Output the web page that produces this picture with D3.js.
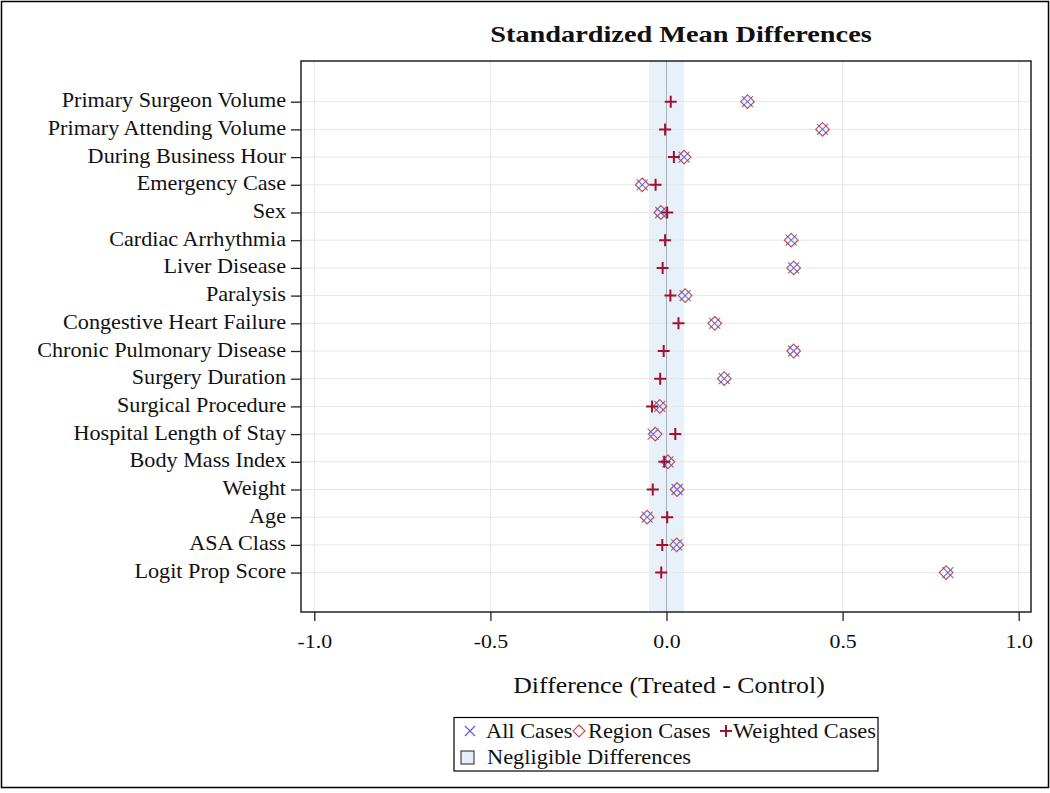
<!DOCTYPE html>
<html><head><meta charset="utf-8">
<script src="https://cdn.jsdelivr.net/npm/d3@7"></script>
<style>body{margin:0;background:#fff}svg{display:block}text{font-family:"Liberation Serif","Times New Roman",serif;fill:#111}</style>
</head><body><svg id="c" width="1050" height="793"></svg>
<script>
const categories = ["Primary Surgeon Volume","Primary Attending Volume","During Business Hour","Emergency Case","Sex","Cardiac Arrhythmia","Liver Disease","Paralysis","Congestive Heart Failure","Chronic Pulmonary Disease","Surgery Duration","Surgical Procedure","Hospital Length of Stay","Body Mass Index","Weight","Age","ASA Class","Logit Prop Score"];
const allCases     = [0.230,0.443,0.050,-0.069,-0.016,0.354,0.361,0.053,0.137,0.361,0.164,-0.019,-0.038,0.004,0.030,-0.055,0.029,0.799];
const regionCases  = [0.230,0.443,0.050,-0.069,-0.016,0.354,0.361,0.053,0.137,0.361,0.164,-0.019,-0.032,0.004,0.030,-0.055,0.029,0.794];
const weightedCases= [0.012,-0.004,0.021,-0.031,0.002,-0.004,-0.011,0.011,0.034,-0.008,-0.018,-0.041,0.025,-0.006,-0.039,0.002,-0.012,-0.015];
const xTicks = [-1.0,-0.5,0.0,0.5,1.0];
const negligible = [-0.05, 0.05];

const svg = d3.select("#c");
const L=301, R=1031, T=61, B=612;
const x = d3.scaleLinear().domain([-1,1]).range([314.3,1018.7]);
const y = d3.scalePoint().domain(categories).range([101.7,572.6]);

function stretch(sel, sx){
  sel.each(function(){
    const t=d3.select(this);
    const xv=+(t.attr("x")||0);
    t.attr("x",xv/sx).attr("transform",`scale(${sx},1)`);
  });
}

svg.append("rect").attr("x",1.5).attr("y",1.5).attr("width",1047).attr("height",786).attr("fill","none").attr("stroke","#000").attr("stroke-width",1.5);

svg.append("text").attr("x",681).attr("y",42).attr("text-anchor","middle").attr("font-size",24).attr("font-weight","bold").text("Standardized Mean Differences").call(stretch,1.18);

svg.append("rect").attr("x",x(negligible[0])).attr("y",T).attr("width",x(negligible[1])-x(negligible[0])).attr("height",B-T).attr("fill","#e8f0f9");

svg.append("g").selectAll("line").data(xTicks).join("line").attr("x1",d=>x(d)).attr("x2",d=>x(d)).attr("y1",T).attr("y2",B).attr("stroke","#e6e6e6").attr("stroke-width",1);
svg.append("g").selectAll("line").data(categories).join("line").attr("x1",L).attr("x2",R).attr("y1",d=>y(d)).attr("y2",d=>y(d)).attr("stroke","#e6e6e6").attr("stroke-width",1);

svg.append("line").attr("x1",x(0)).attr("x2",x(0)).attr("y1",T).attr("y2",B).attr("stroke","#a9b0bc").attr("stroke-width",1);

svg.append("rect").attr("x",L).attr("y",T).attr("width",R-L).attr("height",B-T).attr("fill","none").attr("stroke","#222").attr("stroke-width",1.5);

const xa = svg.append("g").attr("transform",`translate(0,${B})`).call(d3.axisBottom(x).tickValues(xTicks).tickFormat(d=>d3.format(".1f")(d).replace("\u2212","-")).tickSize(9).tickPadding(13));
xa.select(".domain").remove();
xa.selectAll("line").attr("stroke","#222").attr("stroke-width",1.3);
xa.selectAll("text").attr("font-size",19.5).attr("font-family","Liberation Serif, serif").attr("fill","#111").call(stretch,1.12);
const ya = svg.append("g").attr("transform",`translate(${L},0)`).call(d3.axisLeft(y).tickSize(10).tickPadding(5));
ya.select(".domain").remove();
ya.selectAll("line").attr("stroke","#222").attr("stroke-width",1.3);
ya.selectAll("text").attr("font-size",20).attr("dy","0.25em").attr("font-family","Liberation Serif, serif").attr("fill","#111").call(stretch,1.11);

svg.append("text").attr("x",669).attr("y",693).attr("text-anchor","middle").attr("font-size",24).text("Difference (Treated - Control)").call(stretch,1.075);

const diamond = (cx,cy,s)=>`M${cx},${cy-s}L${cx+s},${cy}L${cx},${cy+s}L${cx-s},${cy}Z`;
const cross = (cx,cy,s)=>`M${cx-s},${cy-s}L${cx+s},${cy+s}M${cx-s},${cy+s}L${cx+s},${cy-s}`;
const plus = (cx,cy,s)=>`M${cx-s},${cy}L${cx+s},${cy}M${cx},${cy-s}L${cx},${cy+s}`;

svg.append("g").selectAll("path").data(categories).join("path")
  .attr("d",(d,i)=>diamond(x(regionCases[i]),y(d),6.8)).attr("fill","none").attr("stroke","#c0504d").attr("stroke-width",1.2);
svg.append("g").selectAll("path").data(categories).join("path")
  .attr("d",(d,i)=>cross(x(allCases[i]),y(d),5.5)).attr("fill","none").attr("stroke","#5a5ad0").attr("stroke-width",1.2).attr("opacity",0.85);
svg.append("g").selectAll("path").data(categories).join("path")
  .attr("d",(d,i)=>plus(x(weightedCases[i]),y(d),6)).attr("fill","none").attr("stroke","#a3102e").attr("stroke-width",2);

const lg = svg.append("g");
lg.append("rect").attr("x",454).attr("y",717.5).attr("width",424).attr("height",53.5).attr("fill","#fff").attr("stroke","#000").attr("stroke-width",1.2);
lg.append("path").attr("d",cross(470,731,5)).attr("stroke","#5a5ad0").attr("stroke-width",1.1).attr("fill","none");
lg.append("text").attr("x",486).attr("y",738).attr("font-size",20).text("All Cases").call(stretch,1.12);
lg.append("path").attr("d",diamond(579,731,6)).attr("stroke","#c0504d").attr("stroke-width",1.2).attr("fill","none");
lg.append("text").attr("x",588).attr("y",738).attr("font-size",20).text("Region Cases").call(stretch,1.12);
lg.append("path").attr("d",plus(726,731,6)).attr("stroke","#a3102e").attr("stroke-width",2).attr("fill","none");
lg.append("text").attr("x",733).attr("y",738).attr("font-size",20).text("Weighted Cases").call(stretch,1.12);
lg.append("rect").attr("x",461).attr("y",751).attr("width",13).attr("height",13).attr("fill","#e6eef8").attr("stroke","#222").attr("stroke-width",1);
lg.append("text").attr("x",487).attr("y",764).attr("font-size",20).text("Negligible Differences").call(stretch,1.12);
</script></body></html>
